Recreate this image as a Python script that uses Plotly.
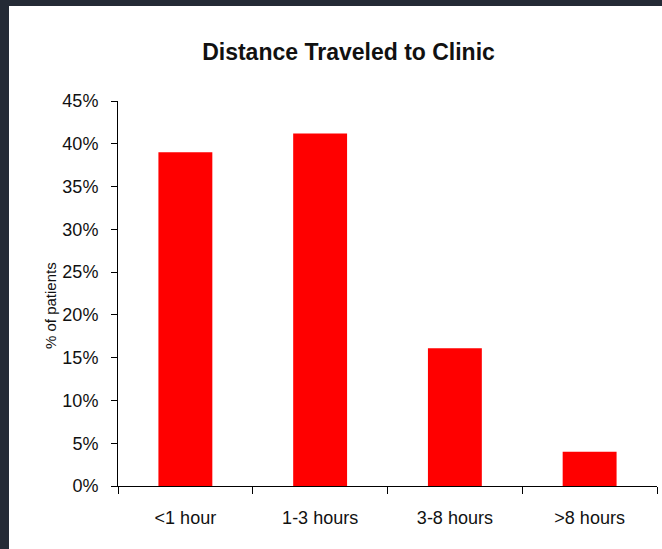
import plotly.graph_objects as go

categories = ["<1 hour", "1-3 hours", "3-8 hours", ">8 hours"]
percent_patients = [39.0, 41.2, 16.1, 4.0]
y_tick_values = [0, 5, 10, 15, 20, 25, 30, 35, 40, 45]
y_tick_labels = ["0%", "5%", "10%", "15%", "20%", "25%", "30%", "35%", "40%", "45%"]

# figure sits at window offset (9, 6) on a dark page; it runs past the window edge
W, H = 690, 580
L, R, T, B = 109, 42, 95, 100
pw, ph = W - L - R, H - T - B

def px_x(x):
    return (x - L) / pw

def px_y(y):
    return (H - B - y) / ph

fig = go.Figure()
fig.add_trace(go.Bar(x=categories, y=percent_patients, marker_color="#FF0000",
                     marker_line_width=0))

font_family = "Liberation Sans, Arial, sans-serif"

fig.update_layout(
    width=W, height=H,
    margin=dict(l=L, r=R, t=T, b=B),
    paper_bgcolor="white", plot_bgcolor="white",
    bargap=0.6,
    showlegend=False,
    font=dict(family=font_family, size=18, color="#111111"),
    title=dict(text="<b>Distance Traveled to Clinic</b>", x=339.5 / W, xref="container",
               xanchor="center", y=(H - 46) / H, yref="container", yanchor="middle",
               font=dict(size=23, color="#111111", family=font_family)),
    xaxis=dict(showline=True, linecolor="#000000", linewidth=1, ticks="outside",
               tickson="boundaries", ticklen=7, tickcolor="#000000", showgrid=False,
               ticklabelstandoff=15, zeroline=False),
    yaxis=dict(range=[0, 45], tickvals=y_tick_values, ticktext=y_tick_labels,
               showline=True, linecolor="#000000", linewidth=1, ticks="outside",
               ticklen=6, tickcolor="#000000", showgrid=False, zeroline=False,
               ticklabelstandoff=9),
)

fig.add_annotation(text="% of patients", xref="paper", yref="paper",
                   x=px_x(41), y=px_y(300), textangle=-90, showarrow=False,
                   font=dict(size=15, color="#111111", family=font_family),
                   xanchor="center", yanchor="middle")

page_style = (
    "document.documentElement.style.background='#242a35';"
    "document.documentElement.style.overflow='hidden';"
    "document.body.style.background='#242a35';"
    "document.body.style.margin='6px 0 0 9px';"
)

fig.write_html("out.html", post_script=page_style)
